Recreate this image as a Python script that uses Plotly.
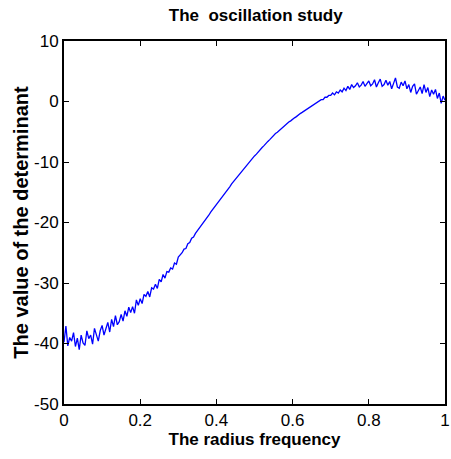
import numpy as np
import plotly.graph_objects as go

det_values = [
    -39.8, -37.1, -40.4, -39.0, -39.6, -38.2, -40.5, -39.1, -41.0, -38.6,
    -39.9, -40.3, -37.9, -39.2, -38.6, -40.1, -37.5, -38.8, -39.6, -37.9,
    -37.0, -38.6, -37.4, -36.5, -38.1, -36.0, -37.2, -35.4, -36.9, -36.4,
    -35.2, -36.3, -34.6, -35.5, -34.0, -34.9, -33.9, -35.0, -32.8, -33.7,
    -32.6, -33.4, -31.9, -32.2, -31.4, -32.3, -30.8, -31.0, -30.2, -30.9,
    -29.4, -29.8, -28.6, -29.2, -28.1, -28.2, -27.5, -27.7, -26.7, -26.9,
    -25.7, -25.4, -25.0, -24.4, -24.3, -23.5, -23.3, -22.6, -22.4, -21.8,
    -21.4, -20.9, -20.5, -20.0, -19.7, -19.2, -18.8, -18.3, -17.9, -17.4,
    -17.0, -16.6, -16.2, -15.7, -15.3, -14.9, -14.5, -14.1, -13.6, -13.2,
    -12.8, -12.4, -12.0, -11.7, -11.3, -10.9, -10.5, -10.1, -9.8, -9.4,
    -9.0, -8.7, -8.3, -8.0, -7.6, -7.3, -6.9, -6.6, -6.3, -5.9,
    -5.6, -5.3, -5.1, -4.8, -4.5, -4.2, -4.0, -3.7, -3.4, -3.2,
    -2.9, -2.7, -2.5, -2.2, -2.0, -1.8, -1.6, -1.3, -1.1, -0.9,
    -0.7, -0.5, -0.4, -0.1, 0.0, 0.3, 0.3, 0.7, 0.7, 1.0,
    1.0, 1.4, 1.1, 1.6, 1.4, 1.9, 1.6, 2.2, 1.8, 2.5,
    2.0, 2.8, 2.3, 2.6, 3.1, 2.4, 2.7, 3.3, 2.5, 3.0,
    3.4, 2.6, 2.9, 3.6, 2.4, 3.1, 3.7, 2.5, 2.8, 3.5,
    2.7, 3.3, 2.1, 3.0, 3.9, 2.4, 2.2, 3.2, 2.6, 3.4,
    2.1, 2.8, 1.5, 2.5, 2.9, 1.2, 1.8, 2.4, 1.3, 2.8,
    1.5, 2.3, 0.8, 1.9, 1.2, 2.0, 0.5, 1.4, -0.3, 0.9,
    0.2,
]
radius_freq = np.linspace(0.0, 1.0, len(det_values))

x_ticks = [0, 0.2, 0.4, 0.6, 0.8, 1]
x_tick_text = ["0", "0.2", "0.4", "0.6", "0.8", "1"]
y_ticks = [-50, -40, -30, -20, -10, 0, 10]
y_tick_text = ["-50", "-40", "-30", "-20", "-10", "0", "10"]

FONT = "Liberation Sans, Arial, sans-serif"

fig = go.Figure()
fig.add_trace(go.Scatter(
    x=radius_freq, y=det_values, mode="lines",
    line=dict(color="#0000FF", width=1.3),
    showlegend=False, hoverinfo="skip",
))

axis_common = dict(
    showline=True, linecolor="black", linewidth=2, mirror="ticks",
    ticks="inside", ticklen=5, tickwidth=1, tickcolor="black",
    showgrid=False, zeroline=False, ticklabeloverflow="allow",
    automargin=False,
    tickfont=dict(family=FONT, size=17, color="black"),
)

fig.update_layout(
    width=451, height=459,
    margin=dict(l=64, r=6, t=41, b=55, autoexpand=False),
    paper_bgcolor="white", plot_bgcolor="white",
    title=dict(text="<b>The  oscillation study</b>", x=0.567, xanchor="center",
               y=0.98, yanchor="top",
               font=dict(family=FONT, size=17, color="black")),
    xaxis=dict(range=[0, 1], tickvals=x_ticks, ticktext=x_tick_text,
               title=dict(text="<b>The radius frequency</b>", standoff=4,
                          font=dict(family=FONT, size=17, color="black")),
               **axis_common),
    yaxis=dict(range=[-50, 10], tickvals=y_ticks, ticktext=y_tick_text,
               title=dict(text="<b>The value of the determinant</b>", standoff=0,
                          font=dict(family=FONT, size=20, color="black")),
               **axis_common),
)

fig.write_html("out.html")
